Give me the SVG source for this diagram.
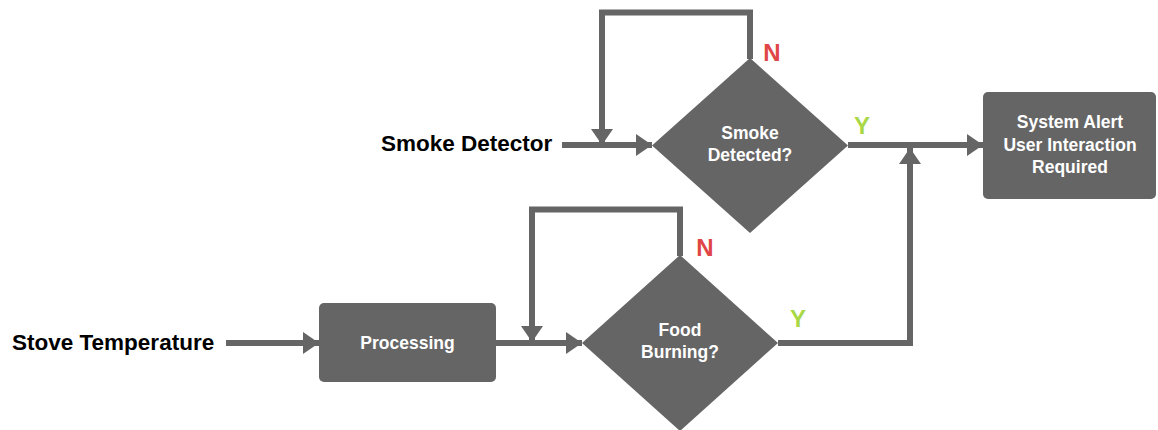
<svg xmlns="http://www.w3.org/2000/svg" width="1158" height="430" viewBox="0 0 1158 430">
<style>
.shape{fill:#656565}
.conn{fill:none;stroke:#656565;stroke-width:6;stroke-linejoin:miter;stroke-linecap:butt}
.in{font-family:"Liberation Sans",Arial,sans-serif;font-weight:bold;font-size:22.5px;fill:#000}
.nt{font-family:"Liberation Sans",Arial,sans-serif;font-weight:bold;font-size:17.5px;fill:#fff;text-anchor:middle}
.n{font-family:"Liberation Sans",Arial,sans-serif;font-weight:bold;font-size:24px;fill:#e04646;text-anchor:middle}
.y{font-family:"Liberation Sans",Arial,sans-serif;font-weight:bold;font-size:24px;fill:#a9d846;text-anchor:middle}
</style>
<defs>
<marker id="ah" markerUnits="userSpaceOnUse" markerWidth="16" markerHeight="22" refX="16" refY="11" orient="auto">
<path d="M0,0 L16,11 L0,22 z" fill="#656565"/>
</marker>
</defs>
<g id="connectors">
<path class="conn" d="M226,343 H319" marker-end="url(#ah)"/>
<path class="conn" d="M496,343 H582" marker-end="url(#ah)"/>
<path class="conn" d="M680,256 V209.5 H532 V342" marker-end="url(#ah)"/>
<path class="conn" d="M778,343 H910 V148" marker-end="url(#ah)"/>
<path class="conn" d="M562,145 H652" marker-end="url(#ah)"/>
<path class="conn" d="M750,59 V12.5 H602 V145" marker-end="url(#ah)"/>
<path class="conn" d="M848,145 H983" marker-end="url(#ah)"/>
</g>
<g id="stove-temperature"><text class="in" x="12" y="350">Stove Temperature</text></g>
<g id="smoke-detector"><text class="in" x="381" y="151">Smoke Detector</text></g>
<g id="processing">
<rect class="shape" x="319" y="303" width="177" height="79" rx="5"/>
<text class="nt" x="407.5" y="349">Processing</text>
</g>
<g id="food-burning">
<polygon class="shape" points="680,255 778,343 680,431 582,343"/>
<text class="nt" x="680" y="336">Food</text>
<text class="nt" x="680" y="358">Burning?</text>
</g>
<g id="smoke-detected">
<polygon class="shape" points="750,58 848,145.5 750,233 652,145.5"/>
<text class="nt" x="750" y="139">Smoke</text>
<text class="nt" x="750" y="161">Detected?</text>
</g>
<g id="system-alert">
<rect class="shape" x="983" y="92" width="173" height="107" rx="5"/>
<text class="nt" x="1070" y="128">System Alert</text>
<text class="nt" x="1070" y="151">User Interaction</text>
<text class="nt" x="1070" y="173">Required</text>
</g>
<g id="labels">
<text class="n" x="772" y="60.5">N</text>
<text class="y" x="862" y="133.5">Y</text>
<text class="n" x="705" y="255.5">N</text>
<text class="y" x="798" y="326.5">Y</text>
</g>
</svg>
